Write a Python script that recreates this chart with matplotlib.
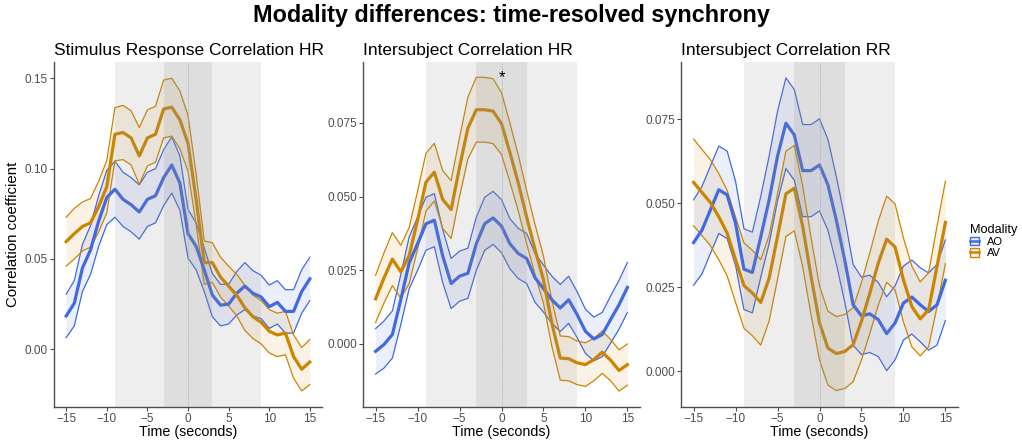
import numpy as np
import matplotlib
matplotlib.use("Agg")
import matplotlib.pyplot as plt
from matplotlib.patches import Patch
from matplotlib.lines import Line2D
from matplotlib.legend_handler import HandlerTuple

plt.rcParams['font.family'] = ['Liberation Sans', 'DejaVu Sans']

time = np.arange(-15, 16)

titles = ["Stimulus Response Correlation HR",
          "Intersubject Correlation HR",
          "Intersubject Correlation RR"]

# panel 1: stimulus response correlation HR
src_ao = [0.0185, 0.0255, 0.045, 0.055, 0.071, 0.084, 0.0886, 0.083, 0.080, 0.076, 0.083,
          0.085, 0.095, 0.102, 0.092, 0.064, 0.057, 0.044, 0.030, 0.0245, 0.025, 0.031,
          0.035, 0.031, 0.029, 0.0236, 0.026, 0.021, 0.021, 0.032, 0.039]
src_ao_se = [0.012, 0.0125, 0.013, 0.0135, 0.014, 0.015, 0.0155, 0.015, 0.015, 0.015, 0.015,
             0.015, 0.0155, 0.0155, 0.015, 0.0135, 0.013, 0.012, 0.012, 0.0115, 0.011, 0.012,
             0.013, 0.0125, 0.012, 0.012, 0.012, 0.012, 0.012, 0.012, 0.012]
src_av = [0.0596, 0.064, 0.068, 0.070, 0.079, 0.090, 0.119, 0.120, 0.117, 0.107, 0.117,
          0.119, 0.133, 0.134, 0.127, 0.114, 0.083, 0.048, 0.048, 0.040, 0.035, 0.030,
          0.023, 0.018, 0.015, 0.010, 0.008, 0.009, -0.004, -0.011, -0.007]
src_av_se = [0.0135, 0.014, 0.0135, 0.0135, 0.014, 0.0145, 0.0147, 0.015, 0.015, 0.0157, 0.0155,
             0.0155, 0.016, 0.016, 0.016, 0.0155, 0.014, 0.012, 0.011, 0.011, 0.011, 0.0115,
             0.0125, 0.012, 0.012, 0.012, 0.012, 0.012, 0.012, 0.012, 0.0125]

# panel 2: intersubject correlation HR
isc_hr_ao = [-0.0025, -0.0002, 0.0032, 0.015, 0.0275, 0.034, 0.0408, 0.042, 0.0298, 0.0205, 0.023,
             0.024, 0.034, 0.0408, 0.0428, 0.040, 0.034, 0.0307, 0.029, 0.0224, 0.0188, 0.015,
             0.0122, 0.015, 0.010, 0.0043, 0.0017, 0.0032, 0.0083, 0.0133, 0.0192]
isc_hr_ao_se = [0.0077, 0.008, 0.008, 0.0085, 0.0088, 0.009, 0.009, 0.009, 0.009, 0.0085, 0.0085,
                0.0085, 0.009, 0.009, 0.009, 0.009, 0.0085, 0.0085, 0.0085, 0.0083, 0.008, 0.008,
                0.008, 0.008, 0.0078, 0.0075, 0.0074, 0.0075, 0.008, 0.0083, 0.0085]
isc_hr_av = [0.0153, 0.0224, 0.0288, 0.0245, 0.030, 0.042, 0.0549, 0.0583, 0.049, 0.0456, 0.060,
             0.0733, 0.0795, 0.0795, 0.079, 0.0748, 0.065, 0.0546, 0.043, 0.032, 0.0218, 0.007,
             -0.0048, -0.005, -0.0064, -0.007, -0.0053, -0.0028, -0.0055, -0.009, -0.007]
isc_hr_av_se = [0.008, 0.0085, 0.009, 0.009, 0.0095, 0.0098, 0.0098, 0.0098, 0.0098, 0.0098, 0.010,
                0.0105, 0.011, 0.011, 0.011, 0.0105, 0.010, 0.0095, 0.009, 0.0085, 0.008, 0.0078,
                0.0075, 0.0075, 0.0074, 0.0074, 0.0072, 0.0072, 0.007, 0.007, 0.007]

# panel 3: intersubject correlation RR
isc_rr_ao = [0.0383, 0.042, 0.048, 0.054, 0.0525, 0.044, 0.0304, 0.0294, 0.040, 0.051, 0.064,
             0.0738, 0.0703, 0.0597, 0.0597, 0.0614, 0.0555, 0.045, 0.0332, 0.0198, 0.0165, 0.0171,
             0.0154, 0.0112, 0.0144, 0.0203, 0.0221, 0.0198, 0.0178, 0.0198, 0.0271]
isc_rr_ao_se = [0.0127, 0.013, 0.013, 0.013, 0.013, 0.0125, 0.012, 0.012, 0.012, 0.013, 0.0133,
                0.0135, 0.0135, 0.0137, 0.0137, 0.0137, 0.0135, 0.013, 0.0125, 0.012, 0.0115, 0.0115,
                0.011, 0.011, 0.011, 0.011, 0.011, 0.011, 0.0115, 0.012, 0.012]
isc_rr_av = [0.0562, 0.0532, 0.0502, 0.046, 0.0411, 0.0332, 0.0255, 0.0233, 0.0205, 0.0277, 0.0401,
             0.0528, 0.0545, 0.0431, 0.0282, 0.0144, 0.0069, 0.0053, 0.0059, 0.0079, 0.0149, 0.0233,
             0.0322, 0.0393, 0.037, 0.0272, 0.0193, 0.0156, 0.0183, 0.0312, 0.0443]
isc_rr_av_se = [0.0129, 0.0128, 0.0128, 0.0128, 0.0127, 0.0127, 0.0127, 0.0127, 0.0127, 0.0127, 0.0127,
                0.0127, 0.0127, 0.012, 0.0115, 0.011, 0.011, 0.011, 0.011, 0.011, 0.0115, 0.012,
                0.0125, 0.0128, 0.0128, 0.0125, 0.012, 0.011, 0.011, 0.012, 0.0123]

ao_means = [src_ao, isc_hr_ao, isc_rr_ao]
ao_ses = [src_ao_se, isc_hr_ao_se, isc_rr_ao_se]
av_means = [src_av, isc_hr_av, isc_rr_av]
av_ses = [src_av_se, isc_hr_av_se, isc_rr_av_se]

yticks = [[0.00, 0.05, 0.10, 0.15], [0.000, 0.025, 0.050, 0.075], [0.000, 0.025, 0.050, 0.075]]
ytick_fmt = ["{:.2f}", "{:.3f}", "{:.3f}"]
ylims = [(-0.0319, 0.159), (-0.0214, 0.0957), (-0.0106, 0.092)]

col_ao = "#4169E1"
col_av = "#CD8500"

W, H = 1022, 443
fig = plt.figure(figsize=(W / 100, H / 100), dpi=100)

# axes boxes in pixels: left, right, top, bottom
boxes = [(54, 322, 62, 407), (363, 640, 62, 407), (681, 958, 62, 407)]

for i, (l, r, t, b) in enumerate(boxes):
    ax = fig.add_axes([l / W, (H - b) / H, (r - l) / W, (b - t) / H])
    for mean, se, col in [(ao_means[i], ao_ses[i], col_ao), (av_means[i], av_ses[i], col_av)]:
        m = np.array(mean)
        s = np.array(se)
        ax.fill_between(time, m - s, m + s, color=col, alpha=0.1, lw=0, zorder=2)
        ax.plot(time, m + s, color=col, lw=0.9, zorder=3)
        ax.plot(time, m - s, color=col, lw=0.9, zorder=3)
        ax.plot(time, m, color=col, lw=2.3, zorder=4)
    # shaded windows, drawn over the data
    ax.axvspan(-9, 9, color="#909090", alpha=0.15, lw=0, zorder=5)
    ax.axvspan(-3, 3, color="#909090", alpha=0.17, lw=0, zorder=6)
    ax.axvline(0, color="#AAAAAA", lw=0.7, ls=(0, (1, 1.5)), zorder=7)

    ax.set_xlim(-16.5, 16.5)
    ax.set_ylim(*ylims[i])
    ax.set_xticks([-15, -10, -5, 0, 5, 10, 15])
    ax.set_yticks(yticks[i])
    ax.set_yticklabels([ytick_fmt[i].format(v) for v in yticks[i]])
    ax.tick_params(colors="#4D4D4D", labelsize=8.5, length=3, width=0.8, pad=1.5)
    for sp in ["top", "right"]:
        ax.spines[sp].set_visible(False)
    for sp in ["left", "bottom"]:
        ax.spines[sp].set_color("#4D4D4D")
        ax.spines[sp].set_linewidth(1.0)
    ax.set_xlabel("Time (seconds)", fontsize=10.3, labelpad=0)
    ax.set_title(titles[i], fontsize=12.5, loc="left", pad=5)
    if i == 0:
        ax.set_ylabel("Correlation coefficient", fontsize=10.8, labelpad=3)
    if i == 1:
        ax.text(0, 0.0904, "*", ha="center", va="center", fontsize=12, zorder=8)

fig.suptitle("Modality differences: time-resolved synchrony", fontsize=16.8,
             fontweight="bold", x=0.5, y=0.99)

handles = []
for col in [col_ao, col_av]:
    box = Patch(facecolor=matplotlib.colors.to_rgba(col, 0.1), edgecolor=col, linewidth=1.0)
    ln = Line2D([], [], color=col, lw=1.8)
    handles.append((box, ln))
fig.legend(handles, ["AO", "AV"], title="Modality", loc="upper left",
           bbox_to_anchor=(962 / W, 1 - 216 / H), frameon=False, fontsize=8,
           title_fontsize=9.2, alignment="left", handlelength=0.85, handleheight=0.8,
           handletextpad=0.7, labelspacing=0.1, borderpad=0.2,
           handler_map={tuple: HandlerTuple(ndivide=1)})

fig.savefig("out.png", dpi=100)
